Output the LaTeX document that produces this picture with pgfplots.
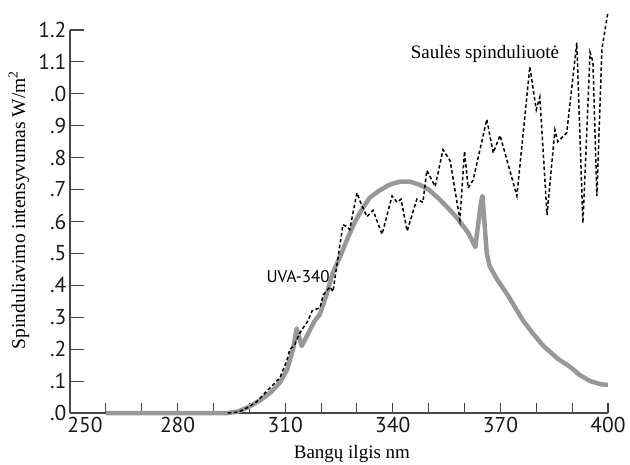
\documentclass[border=0pt]{standalone}
\usepackage{fontspec}
\setmainfont{Liberation Serif}
\newfontfamily\tickfont{PT Sans}
\usepackage{pgfplots}
\pgfplotsset{compat=1.18}
\definecolor{uvgray}{RGB}{152,152,152}
\definecolor{axgray}{RGB}{70,70,70}
\begin{document}
\begin{tikzpicture}
\begin{axis}[
  at={(70pt,51pt)}, anchor=south west,
  scale only axis, width=538pt, height=383pt,
  xmin=250, xmax=400, ymin=0, ymax=1.2,
  axis lines*=left,
  clip=false,
  axis line style={draw=axgray, line width=1.1pt},
  tick style={draw=axgray, line width=1.1pt},
  tick align=inside,
  major tick length=14pt,
  xtick style={/pgfplots/major tick length=10pt},
  xtick={260,270,280,290,300,310,320,330,340,350,360,370,380,390,400},
  xticklabels={,,280,,,310,,,340,,,370,,,400},
  extra x ticks={250},
  extra x tick labels={250},
  extra x tick style={major tick length=0pt, xticklabel style={xshift=15pt}},
  ytick={0,0.1,0.2,0.3,0.4,0.5,0.6,0.7,0.8,0.9,1.0,1.1,1.2},
  yticklabels={.0,.1,.2,.3,.4,.5,.6,.7,.8,.9,.0,1.1,1.2},
  /pgf/number format/assume math mode=true,
  ticklabel style={font=\tickfont\fontsize{21.5}{24}\selectfont, text=black!90},
  xticklabel style={yshift=-1pt},
]
% UVA-340 lamp
\addplot[uvgray, line width=4.5pt, line join=round] coordinates {
(260,0) (280,0) (294,0) (297,0.005) (300,0.02) (303,0.04) (306,0.065)
(308.5,0.095) (310.5,0.135) (312.2,0.20) (313.2,0.265) (314.6,0.21)
(316,0.24) (318,0.285) (319.7,0.31) (321.5,0.37) (323.3,0.44) (325.3,0.49)
(327.5,0.55) (329.5,0.60) (331.5,0.64) (333.6,0.675) (336,0.695) (339,0.715)
(342,0.725) (344.8,0.725) (347.5,0.715) (350,0.70) (353,0.67) (356,0.635)
(358,0.61) (361,0.565) (363.0,0.52) (364.6,0.66) (365.0,0.68) (365.4,0.62)
(366.2,0.50) (367,0.46) (369,0.42) (372,0.37) (376.3,0.29) (379,0.25)
(382,0.21) (386,0.17) (389.4,0.145) (392,0.12) (395,0.10) (398,0.09) (400,0.088)
};
% Solar radiation
\addplot[black, line width=1.5pt, dash pattern=on 3.5pt off 2.5pt] coordinates {
(294,0) (297,0.003) (300,0.02) (302,0.035) (305,0.07) (308.5,0.11)
(310.5,0.165) (311.3,0.20) (312.5,0.21) (314,0.25) (316.4,0.29) (317.5,0.32)
(319.7,0.33) (320.6,0.37) (322.5,0.395) (323.3,0.38) (324.7,0.485)
(326.1,0.59) (327,0.585) (328,0.575) (330,0.69) (331,0.66) (332.8,0.615)
(334.5,0.635) (337,0.56) (339.8,0.68) (341.2,0.66) (342.3,0.67) (344,0.57)
(346.7,0.67) (348.4,0.66) (349.5,0.76) (351.8,0.71) (354,0.825) (356,0.79)
(358.7,0.605) (360,0.82) (361,0.705) (362.4,0.73) (366.2,0.92) (368,0.815)
(369.9,0.87) (374.6,0.68) (378.2,1.085) (380,0.95) (381,0.99) (383,0.62)
(385.2,0.887) (386,0.85) (388.5,0.878) (391.3,1.16) (393,0.595) (395,1.13)
(395.8,1.10) (396.9,0.68) (398.3,1.14) (400,1.257)
};
\node[anchor=base, font=\fontsize{19}{22}\selectfont] at (axis cs:365.7,1.11) {Saulės spinduliuotė};
\node[anchor=base, font=\tickfont\fontsize{17}{20}\selectfont] at (axis cs:313.6,0.41) {UVA-340};
\node[anchor=base, font=\fontsize{19}{22}\selectfont] at (axis cs:328.6,-0.141) {Bangų ilgis nm};
\node[anchor=base, rotate=90, font=\fontsize{19.5}{22}\selectfont] at (axis cs:237.5,0.636) {Spinduliavimo intensyvumas W/m\textsuperscript{2}};
\end{axis}
\pgfresetboundingbox
\path[use as bounding box] (0,0) rectangle (630pt,464pt);
\end{tikzpicture}
\end{document}
